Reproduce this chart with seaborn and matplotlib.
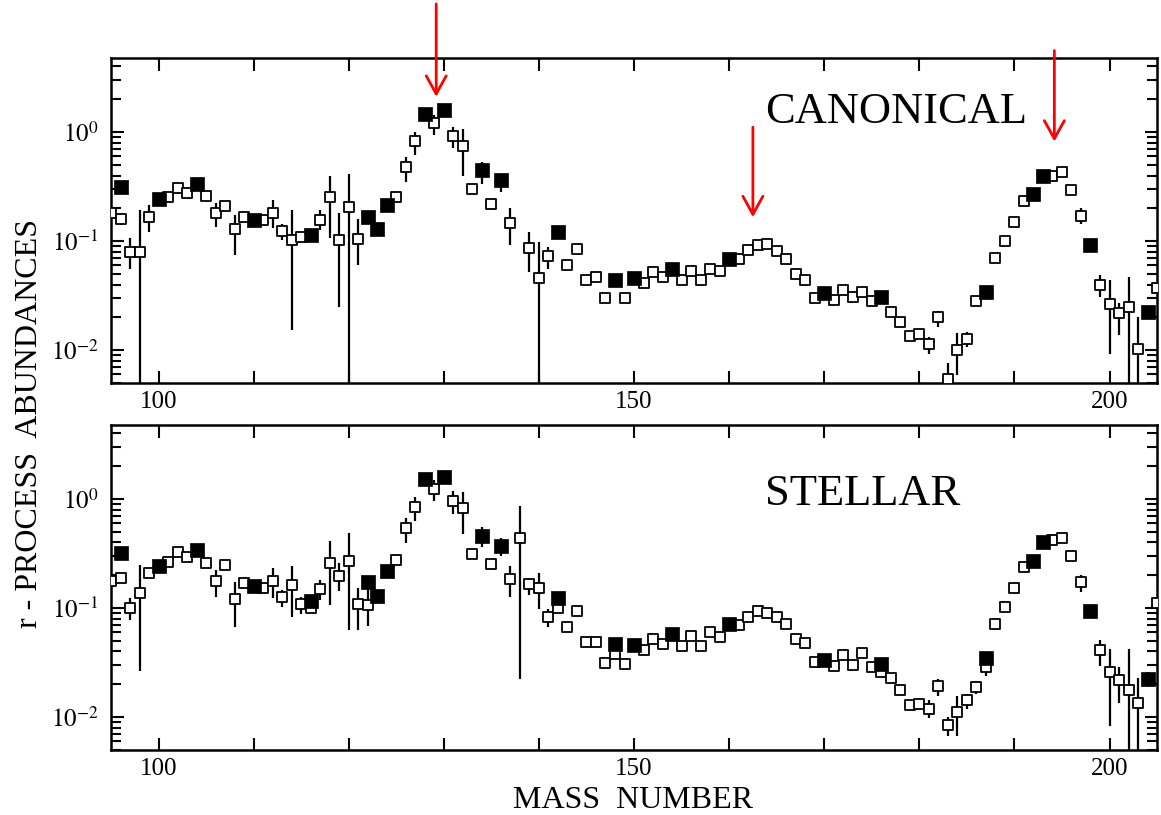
import math
import matplotlib
matplotlib.use('Agg')
import matplotlib.pyplot as plt
import seaborn as sns
from matplotlib.ticker import FixedLocator, MultipleLocator, LogLocator, NullFormatter, FuncFormatter

# ---------------- CANONICAL (top panel) ----------------
can_open_a = [95, 96, 97, 98, 99, 101, 102, 103, 105, 106, 107, 108, 109, 111, 112, 113, 114, 115,
              117, 118, 119, 120, 121, 125, 126, 127, 129, 131, 132, 133, 135, 137, 139, 140, 141,
              143, 144, 145, 146, 147, 149, 151, 152, 153, 155, 156, 157, 158, 159, 161, 162, 163,
              164, 165, 166, 167, 168, 169, 171, 172, 173, 174, 175, 177, 178, 179, 180, 181, 182,
              183, 184, 185, 186, 188, 189, 190, 191, 194, 195, 196, 197, 199, 200, 201, 202, 203, 205]
can_open_y = [0.183, 0.159, 0.080, 0.079, 0.167, 0.255, 0.308, 0.274, 0.26, 0.18, 0.211, 0.128, 0.167,
              0.156, 0.183, 0.124, 0.102, 0.110, 0.156, 0.255, 0.102, 0.206, 0.105, 0.255, 0.48, 0.83,
              1.22, 0.92, 0.74, 0.30, 0.218, 0.148, 0.087, 0.0455, 0.073, 0.061, 0.0845, 0.0445, 0.047,
              0.030, 0.030, 0.041, 0.052, 0.047, 0.0439, 0.053, 0.0439, 0.056, 0.053, 0.068, 0.083,
              0.092, 0.095, 0.081, 0.068, 0.0505, 0.0439, 0.030, 0.0288, 0.0355, 0.0306, 0.0343,
              0.0284, 0.0225, 0.018, 0.0134, 0.0142, 0.0113, 0.0202, 0.0055, 0.0101, 0.0128, 0.0284,
              0.0708, 0.10, 0.150, 0.235, 0.40, 0.433, 0.294, 0.171, 0.040, 0.0264, 0.022, 0.025,
              0.0102, 0.037]
can_fill_a = [96, 100, 104, 110, 116, 122, 123, 124, 128, 130, 134, 136, 142, 148, 150, 154, 160,
              170, 176, 187, 192, 193, 198, 204]
can_fill_y = [0.315, 0.246, 0.338, 0.156, 0.115, 0.167, 0.129, 0.214, 1.48, 1.59, 0.45, 0.363, 0.122,
              0.0445, 0.0455, 0.056, 0.069, 0.0338, 0.0306, 0.0343, 0.27, 0.395, 0.093, 0.0222]
can_err_a = [96, 97, 98, 99, 102, 106, 108, 112, 113, 114, 117, 118, 119, 120, 121, 126, 127, 129,
             131, 132, 134, 136, 137, 139, 140, 141, 174, 180, 181, 182, 183, 184, 185, 197, 199,
             200, 201, 202, 203]
can_err_lo = [0.14, 0.056, 0.004, 0.122, 0.27, 0.135, 0.074, 0.131, 0.102, 0.0152, 0.126, 0.106,
              0.025, 0.004, 0.060, 0.35, 0.615, 0.94, 0.71, 0.40, 0.338, 0.284, 0.092, 0.052, 0.004,
              0.056, 0.031, 0.0128, 0.0093, 0.0164, 0.004, 0.0059, 0.0107, 0.145, 0.031, 0.0093,
              0.0137, 0.004, 0.004]
can_err_hi = [0.18, 0.106, 0.193, 0.214, 0.34, 0.222, 0.173, 0.238, 0.145, 0.193, 0.193, 0.40,
              0.18, 0.417, 0.161, 0.594, 1.0, 1.43, 1.12, 1.08, 0.534, 0.417, 0.20, 0.122, 0.099,
              0.088, 0.038, 0.0158, 0.0133, 0.023, 0.0076, 0.0143, 0.0147, 0.20, 0.049, 0.044,
              0.027, 0.047, 0.0203]

# ---------------- STELLAR (bottom panel) ----------------
ste_open_a = [95, 96, 97, 98, 99, 101, 102, 103, 105, 106, 107, 108, 109, 111, 112, 113, 114, 115,
              116, 117, 118, 119, 120, 121, 122, 125, 126, 127, 129, 131, 132, 133, 135, 137, 138,
              139, 140, 141, 142, 143, 144, 145, 146, 147, 148, 149, 151, 152, 153, 155, 156, 157,
              158, 159, 161, 162, 163, 164, 165, 166, 167, 168, 169, 171, 172, 173, 174, 175, 176,
              177, 178, 179, 180, 181, 182, 183, 184, 185, 186, 187, 188, 189, 190, 191, 194, 195,
              196, 197, 199, 200, 201, 202, 203, 205]
ste_open_y = [0.179, 0.188, 0.101, 0.137, 0.212, 0.265, 0.325, 0.292, 0.26, 0.178, 0.25, 0.121,
              0.169, 0.152, 0.178, 0.127, 0.163, 0.110, 0.10, 0.15, 0.26, 0.199, 0.272, 0.108,
              0.107, 0.274, 0.547, 0.85, 1.24, 0.96, 0.82, 0.314, 0.255, 0.184, 0.442, 0.166,
              0.152, 0.083, 0.101, 0.067, 0.094, 0.0488, 0.0488, 0.0312, 0.038, 0.0307, 0.0414,
              0.0524, 0.047, 0.0448, 0.055, 0.0448, 0.060, 0.054, 0.070, 0.083, 0.094, 0.0905,
              0.082, 0.071, 0.0524, 0.0477, 0.0318, 0.0297, 0.0373, 0.030, 0.039, 0.0286, 0.026,
              0.0228, 0.0177, 0.0129, 0.0131, 0.012, 0.0194, 0.0084, 0.0111, 0.0143, 0.019, 0.0286,
              0.072, 0.103, 0.152, 0.238, 0.417, 0.442, 0.299, 0.173, 0.0414, 0.0257, 0.0219,
              0.0177, 0.0134, 0.112]
ste_fill_a = [96, 100, 104, 110, 116, 122, 123, 124, 128, 130, 134, 136, 142, 148, 150, 154, 160,
              170, 176, 187, 192, 193, 198, 204]
ste_fill_y = [0.321, 0.245, 0.344, 0.161, 0.116, 0.175, 0.130, 0.217, 1.53, 1.59, 0.457, 0.375,
              0.123, 0.0464, 0.0454, 0.0574, 0.071, 0.0335, 0.0307, 0.035, 0.268, 0.403, 0.094, 0.0223]
ste_err_a = [96, 97, 98, 106, 108, 112, 113, 114, 115, 117, 118, 119, 120, 121, 122, 126, 127, 129,
             131, 132, 134, 136, 137, 138, 139, 140, 141, 180, 181, 182, 183, 184, 185, 186, 187,
             197, 199, 200, 201, 202, 203, 204]
ste_err_lo = [0.17, 0.0775, 0.0267, 0.127, 0.067, 0.123, 0.103, 0.083, 0.089, 0.119, 0.107, 0.142,
              0.063, 0.063, 0.069, 0.397, 0.63, 0.96, 0.73, 0.474, 0.36, 0.30, 0.127, 0.0223, 0.132,
              0.099, 0.067, 0.0118, 0.0098, 0.0157, 0.0067, 0.0067, 0.0118, 0.0162, 0.0239, 0.141,
              0.0297, 0.0083, 0.0136, 0.004, 0.004, 0.019]
ste_err_hi = [0.21, 0.123, 0.25, 0.225, 0.175, 0.233, 0.147, 0.241, 0.127, 0.182, 0.41, 0.259,
              0.49, 0.153, 0.158, 0.677, 1.04, 1.48, 1.19, 1.15, 0.55, 0.44, 0.241, 0.87, 0.188,
              0.209, 0.099, 0.0148, 0.0145, 0.0223, 0.0101, 0.0156, 0.0163, 0.0216, 0.0318, 0.202,
              0.0508, 0.0423, 0.0286, 0.042, 0.023, 0.026]

# red arrows on the top panel: (mass, start, tip)
arrow_a = [129.2, 162.5, 194.2]
arrow_from = [15.0, 1.11, 5.6]
arrow_to = [2.11, 0.166, 0.82]

sns.set_theme(style='ticks')
plt.rcParams['font.family'] = ['Liberation Serif', 'DejaVu Serif']
plt.rcParams['mathtext.fontset'] = 'stix'
plt.rcParams['text.color'] = 'black'
plt.rcParams['xtick.color'] = 'black'
plt.rcParams['ytick.color'] = 'black'
plt.rcParams['axes.edgecolor'] = 'black'

fig = plt.figure(figsize=(11.61, 8.15), dpi=100)
ax_top = fig.add_axes([0.0956, 0.530, 0.901, 0.399])
ax_bot = fig.add_axes([0.0956, 0.0798, 0.901, 0.399])


def draw_panel(ax, open_a, open_y, fill_a, fill_y, err_a, err_lo, err_hi, title, title_y):
    ax.set_yscale('log')
    ax.vlines(err_a, err_lo, err_hi, color='black', lw=1.6, zorder=2)
    sns.scatterplot(x=open_a, y=open_y, marker='s', s=50, color='white', edgecolor='black',
                    linewidth=1.3, ax=ax, zorder=3)
    sns.scatterplot(x=fill_a, y=fill_y, marker='s', s=100, color='black', edgecolor='black',
                    linewidth=0.5, ax=ax, zorder=4)
    ax.set_xlim(95, 205)
    ax.set_ylim(0.005, 4.8)
    ax.xaxis.set_major_locator(FixedLocator([100, 150, 200]))
    ax.xaxis.set_minor_locator(MultipleLocator(10))
    ax.yaxis.set_major_locator(LogLocator(base=10))
    ax.yaxis.set_minor_locator(LogLocator(base=10, subs=range(2, 10)))
    ax.yaxis.set_minor_formatter(NullFormatter())
    ax.yaxis.set_major_formatter(FuncFormatter(lambda v, p: r'$10^{%d}$' % round(math.log10(v))))
    ax.tick_params(which='both', direction='in', top=True, right=True, width=1.5, labelsize=18)
    ax.tick_params(which='major', length=9)
    ax.tick_params(which='minor', length=7)
    ax.tick_params(axis='x', which='minor', length=9)
    ax.tick_params(axis='x', pad=6)
    ax.tick_params(axis='y', pad=9)
    for sp in ax.spines.values():
        sp.set_linewidth(1.8)
    ax.text(163.8, title_y, title, fontsize=32, ha='left', va='center', color='black')
    ax.set_xlabel('')
    ax.set_ylabel('')


draw_panel(ax_top, can_open_a, can_open_y, can_fill_a, can_fill_y,
           can_err_a, can_err_lo, can_err_hi, 'CANONICAL', 1.52)
draw_panel(ax_bot, ste_open_a, ste_open_y, ste_fill_a, ste_fill_y,
           ste_err_a, ste_err_lo, ste_err_hi, 'STELLAR', 1.11)

for xa, y0, y1 in zip(arrow_a, arrow_from, arrow_to):
    ax_top.annotate('', xy=(xa, y1), xytext=(xa, y0), annotation_clip=False, zorder=6,
                    arrowprops=dict(arrowstyle='->,head_length=0.65,head_width=0.36',
                                    color='red', lw=2.0, mutation_scale=20, shrinkA=0, shrinkB=0))

fig.text(30 / 1161, 1 - 423 / 815, 'r - PROCESS  ABUNDANCES', rotation=90,
         ha='center', va='center', fontsize=23, color='black')
fig.text(633 / 1161, 1 - 800 / 815, 'MASS  NUMBER', ha='center', va='center', fontsize=23,
         color='black')

fig.savefig('out.png', dpi=100, facecolor='white')
